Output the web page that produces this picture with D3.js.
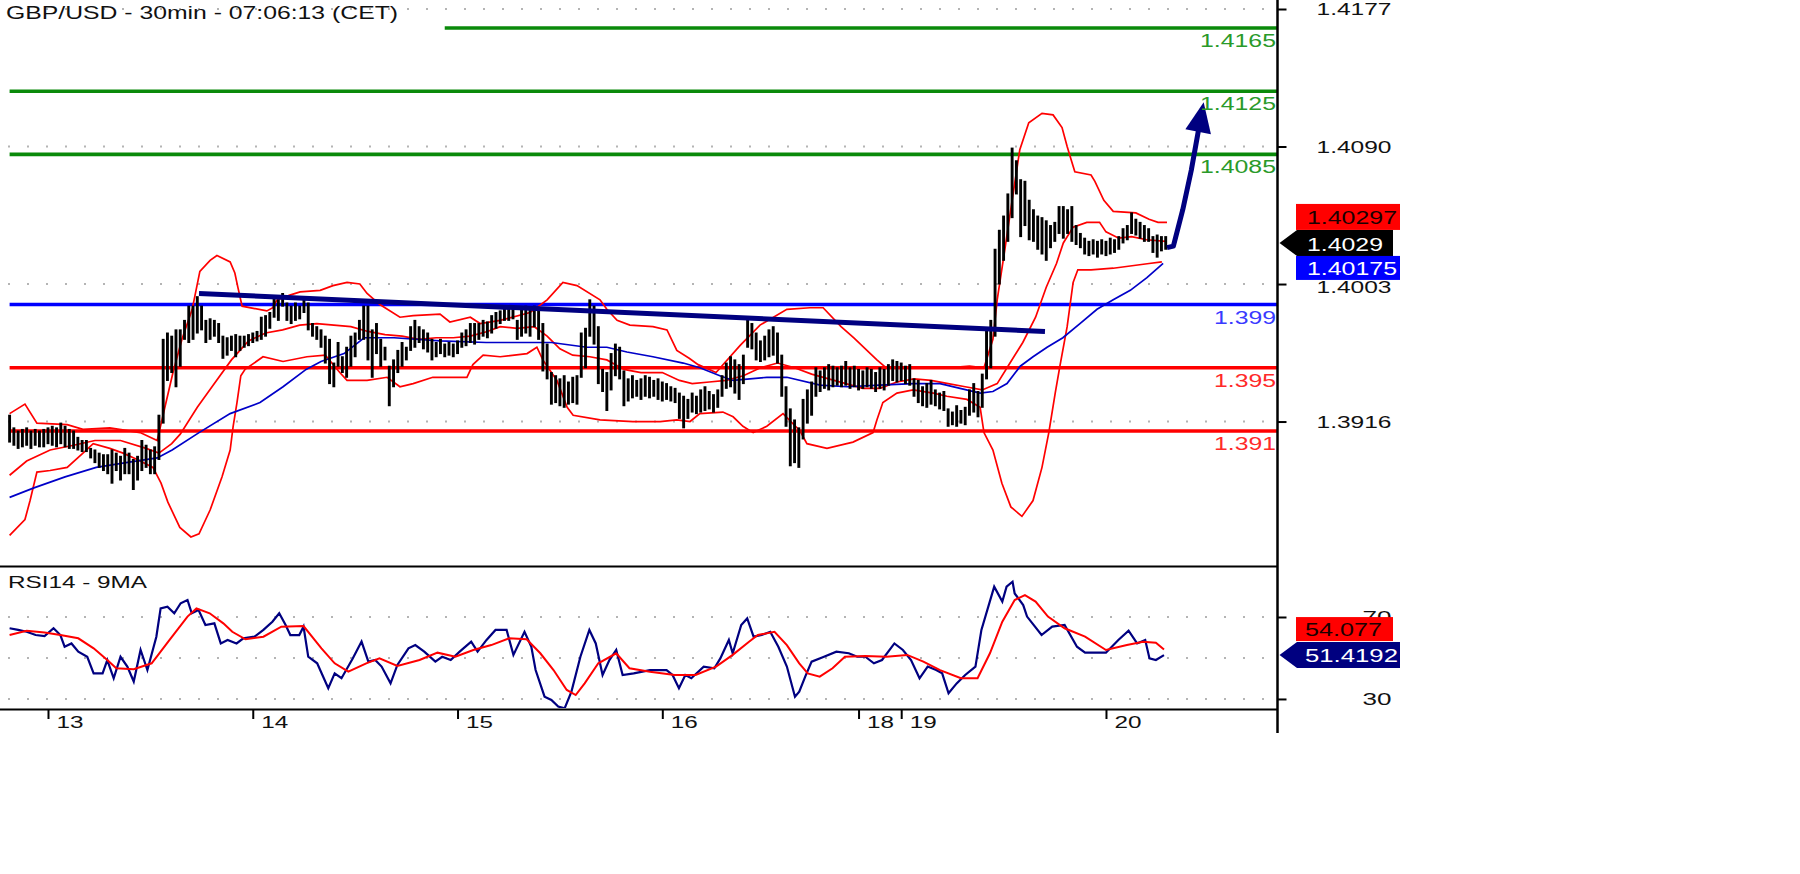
<!DOCTYPE html>
<html><head><meta charset="utf-8">
<script src="https://cdn.jsdelivr.net/npm/d3@7"></script>
<style>html,body{margin:0;padding:0;background:#fff;overflow:hidden}svg{display:block;font-family:"Liberation Sans",Arial,sans-serif}</style>
</head><body><svg id="chart" width="1800" height="874"></svg>
<script>
// ---------- DATA ----------
const title = "GBP/USD - 30min - 07:06:13 (CET)";
const rsiTitle = "RSI14 - 9MA";
const highs = [1.3920,1.3912,1.3910,1.3911,1.3912,1.3910,1.3911,1.3910,1.3911,1.3912,1.3913,1.3912,1.3915,1.3913,1.3911,1.3910,1.3906,1.3904,1.3904,1.3899,
1.3898,1.3896,1.3895,1.3895,1.3898,1.3896,1.3894,1.3899,1.3896,1.3892,1.3894,1.3904,1.3901,1.3898,1.3900,1.3920,1.3968,1.3972,1.3970,1.3974,
1.3974,1.3980,1.3989,1.3989,1.3995,1.3989,1.3980,1.3981,1.3980,1.3978,1.3970,1.3969,1.3970,1.3971,1.3970,1.3970,1.3971,1.3972,1.3973,1.3982,
1.3983,1.3985,1.3995,1.3993,1.3997,1.3991,1.3989,1.3991,1.3989,1.3993,1.3991,1.3978,1.3976,1.3974,1.3970,1.3968,1.3953,1.3966,1.3957,1.3963,
1.3970,1.3972,1.3980,1.3989,1.3989,1.3974,1.3978,1.3968,1.3963,1.3951,1.3955,1.3961,1.3966,1.3963,1.3976,1.3980,1.3976,1.3974,1.3972,1.3968,
1.3966,1.3968,1.3965,1.3966,1.3965,1.3967,1.3972,1.3974,1.3978,1.3978,1.3978,1.3980,1.3979,1.3983,1.3985,1.3986,1.3988,1.3987,1.3989,1.3980,
1.3987,1.3989,1.3988,1.3989,1.3986,1.3978,1.3965,1.3947,1.3945,1.3943,1.3945,1.3941,1.3944,1.3945,1.3972,1.3975,1.3993,1.3989,1.3976,1.3949,
1.3947,1.3959,1.3965,1.3963,1.3948,1.3943,1.3945,1.3942,1.3943,1.3945,1.3944,1.3942,1.3943,1.3941,1.3940,1.3938,1.3937,1.3934,1.3932,1.3930,
1.3934,1.3932,1.3936,1.3938,1.3935,1.3933,1.3936,1.3945,1.3953,1.3957,1.3955,1.3952,1.3958,1.3980,1.3978,1.3972,1.3967,1.3970,1.3974,1.3976,
1.3972,1.3958,1.3938,1.3924,1.3917,1.3912,1.3930,1.3936,1.3941,1.3950,1.3948,1.3950,1.3952,1.3951,1.3950,1.3951,1.3954,1.3950,1.3951,1.3949,
1.3948,1.3950,1.3949,1.3947,1.3950,1.3949,1.3952,1.3955,1.3954,1.3953,1.3951,1.3952,1.3943,1.3942,1.3938,1.3940,1.3942,1.3936,1.3934,1.3935,
1.3924,1.3922,1.3926,1.3923,1.3925,1.3936,1.3940,1.3935,1.3946,1.3975,1.3980,1.4025,1.4037,1.4046,1.4060,1.4089,1.4081,1.4069,1.4068,1.4056,
1.4050,1.4046,1.4045,1.4043,1.4040,1.4042,1.4052,1.4052,1.4050,1.4052,1.4040,1.4035,1.4032,1.4030,1.4031,1.4030,1.4031,1.4030,1.4032,1.4031,
1.4033,1.4038,1.4040,1.4048,1.4044,1.4042,1.4040,1.4038,1.4033,1.4034,1.4033,1.4033];
const lows = [1.3903,1.3901,1.3899,1.3900,1.3901,1.3899,1.3901,1.3900,1.3900,1.3902,1.3901,1.3900,1.3902,1.3900,1.3899,1.3899,1.3898,1.3897,1.3897,1.3893,
1.3890,1.3887,1.3885,1.3883,1.3877,1.3885,1.3879,1.3883,1.3883,1.3873,1.3879,1.3885,1.3887,1.3883,1.3883,1.3892,1.3915,1.3942,1.3947,1.3938,
1.3951,1.3968,1.3966,1.3968,1.3972,1.3974,1.3966,1.3968,1.3970,1.3966,1.3956,1.3958,1.3961,1.3957,1.3961,1.3963,1.3964,1.3966,1.3967,1.3968,
1.3970,1.3975,1.3982,1.3980,1.3989,1.3980,1.3978,1.3980,1.3981,1.3985,1.3974,1.3970,1.3968,1.3963,1.3953,1.3940,1.3938,1.3951,1.3947,1.3944,
1.3951,1.3957,1.3968,1.3968,1.3955,1.3944,1.3959,1.3951,1.3955,1.3926,1.3938,1.3947,1.3951,1.3955,1.3961,1.3963,1.3966,1.3962,1.3960,1.3955,
1.3957,1.3959,1.3957,1.3958,1.3957,1.3959,1.3963,1.3964,1.3966,1.3965,1.3968,1.3970,1.3969,1.3972,1.3975,1.3978,1.3980,1.3980,1.3981,1.3968,
1.3970,1.3972,1.3970,1.3976,1.3968,1.3948,1.3943,1.3927,1.3928,1.3926,1.3925,1.3927,1.3928,1.3927,1.3944,1.3950,1.3970,1.3965,1.3940,1.3935,
1.3923,1.3936,1.3945,1.3943,1.3926,1.3929,1.3931,1.3932,1.3930,1.3932,1.3931,1.3932,1.3930,1.3929,1.3930,1.3929,1.3928,1.3918,1.3912,1.3918,
1.3922,1.3921,1.3922,1.3923,1.3924,1.3922,1.3925,1.3932,1.3937,1.3938,1.3934,1.3930,1.3940,1.3963,1.3962,1.3955,1.3954,1.3955,1.3957,1.3958,
1.3953,1.3932,1.3913,1.3888,1.3890,1.3887,1.3905,1.3915,1.3920,1.3932,1.3935,1.3937,1.3936,1.3938,1.3939,1.3938,1.3939,1.3937,1.3938,1.3936,
1.3937,1.3938,1.3937,1.3935,1.3937,1.3936,1.3939,1.3942,1.3941,1.3942,1.3940,1.3939,1.3932,1.3928,1.3926,1.3925,1.3927,1.3926,1.3924,1.3923,
1.3913,1.3914,1.3913,1.3915,1.3914,1.3920,1.3922,1.3919,1.3925,1.3943,1.3950,1.3970,1.4003,1.4018,1.4030,1.4045,1.4060,1.4033,1.4040,1.4031,
1.4030,1.4025,1.4022,1.4018,1.4026,1.4030,1.4035,1.4032,1.4035,1.4030,1.4028,1.4026,1.4022,1.4021,1.4022,1.4020,1.4022,1.4021,1.4022,1.4023,
1.4025,1.4029,1.4031,1.4035,1.4034,1.4032,1.4030,1.4030,1.4023,1.4020,1.4024,1.4025];
// Bollinger bands [bar index, price]
const bandUpper = [[0,1.3921],[3.6,1.3927],[6.4,1.3915],[13.5,1.3914],[17.2,1.3911],[23.5,1.3912],[30.6,1.3909],[34.6,1.3904],[36.4,1.3925],[38.3,1.3947],[40.4,1.3968],[42.8,1.3987],[44.6,1.4011],[47,1.4018],[48.6,1.4021],[51.7,1.4017],[52.8,1.4010],[53.5,1.4001],[54.5,1.3989],[60.3,1.3986],[61.7,1.3988],[62.7,1.3993],[65.7,1.3996],[68.1,1.3998],[72.8,1.3999],[75.8,1.4002],[79.1,1.4004],[82.1,1.4003],[83.8,1.3997],[86.8,1.3990],[91.5,1.3982],[94.6,1.3983],[100.9,1.3984],[103.2,1.3979],[108,1.3982],[110.3,1.3978],[115,1.3980],[122,1.3985],[126,1.3993],[129.7,1.4004],[133,1.4002],[138.4,1.3993],[140,1.3987],[142.4,1.3980],[145.4,1.3977],[150.8,1.3976],[154.1,1.3974],[156.4,1.3961],[159.3,1.3956],[161.4,1.3952],[165.6,1.3947],[171.2,1.3964],[175.9,1.3977],[182.2,1.3987],[187.6,1.3988],[190.7,1.3988],[194.9,1.3976],[197.9,1.3969],[203.3,1.3955],[205.5,1.3950],[212,1.3950],[220,1.3950],[225,1.3951],[228.4,1.3950],[230.5,1.3968],[231.5,1.3993],[233.3,1.4025],[235,1.4056],[236.8,1.4088],[238.9,1.4105],[242,1.4111],[244.6,1.4110],[246.7,1.4102],[247.9,1.4090],[248.8,1.4082],[249.7,1.4074],[253.5,1.4072],[254.4,1.4068],[256.5,1.4056],[258.7,1.4049],[264,1.4048],[267.1,1.4044],[269.2,1.4042],[271.3,1.4042]];
const bandMiddle = [[0,1.3882],[4,1.3891],[9.5,1.3898],[15,1.3901],[20,1.3904],[26,1.3904],[32,1.3899],[35,1.3896],[38,1.3902],[40,1.3908],[44,1.3925],[48,1.3940],[52,1.3955],[56,1.3967],[60,1.3972],[64,1.3974],[68,1.3977],[72,1.3978],[76,1.3977],[80,1.3976],[84,1.3973],[88,1.3971],[92,1.3970],[96,1.3968],[100,1.3969],[104,1.3969],[108,1.3970],[112,1.3973],[115,1.3976],[119,1.3975],[123,1.3976],[126,1.3970],[129,1.3962],[132,1.3958],[136,1.3957],[140,1.3955],[144,1.3949],[148,1.3947],[153,1.3947],[157,1.3942],[160,1.3940],[164,1.3941],[168,1.3942],[172,1.3945],[176,1.3950],[180,1.3953],[184,1.3950],[188,1.3946],[192,1.3943],[196,1.3940],[200,1.3937],[204,1.3937],[208,1.3941],[212,1.3943],[216,1.3942],[220,1.3940],[224,1.3938],[228,1.3936],[231.5,1.3940],[234.5,1.3953],[237.5,1.3966],[240.5,1.3982],[243,1.4001],[245.4,1.4016],[247,1.4029],[249.3,1.4039],[252.5,1.4042],[255.5,1.4042],[257,1.4036],[260,1.4032],[263,1.4033],[266.5,1.4031],[271,1.4030]];
const bandLower = [[0,1.3844],[3.6,1.3854],[4.8,1.3866],[6.4,1.3884],[9.5,1.3885],[13.5,1.3887],[17.2,1.3896],[19.6,1.3902],[23.5,1.3899],[26.6,1.3896],[29.9,1.3892],[33.6,1.3887],[35.5,1.3877],[37.1,1.3865],[39.9,1.3849],[42.5,1.3843],[44.4,1.3845],[47,1.3860],[49.8,1.3881],[51.7,1.3898],[52.4,1.3913],[53.3,1.3928],[54.2,1.3945],[55.2,1.3949],[59.4,1.3957],[64.1,1.3954],[69.7,1.3957],[74,1.3958],[77.4,1.3947],[79.1,1.3942],[83.8,1.3942],[88.5,1.3944],[91.5,1.3938],[94.6,1.3940],[99.2,1.3944],[107.2,1.3944],[108.6,1.3952],[111,1.3958],[115,1.3957],[121.3,1.3959],[123.6,1.3963],[125,1.3955],[128.3,1.3942],[130.7,1.3925],[132.1,1.3920],[138.4,1.3917],[146.1,1.3916],[152.5,1.3916],[156.4,1.3917],[159.5,1.3916],[161.8,1.3921],[167.2,1.3922],[169.6,1.3919],[171.9,1.3913],[174.3,1.3909],[177.5,1.3913],[181.3,1.3921],[185.3,1.3910],[186.9,1.3902],[191.6,1.3899],[197.7,1.3903],[202.4,1.3909],[203.3,1.3917],[204.7,1.3928],[208,1.3934],[211.8,1.3936],[216.5,1.3934],[219.7,1.3932],[224.4,1.3930],[227.5,1.3925],[228.4,1.3909],[230.5,1.3898],[232.6,1.3877],[234.7,1.3862],[237.3,1.3856],[239.9,1.3866],[242,1.3887],[243.6,1.3909],[245.1,1.3934],[246.2,1.3951],[247.9,1.3976],[249.3,1.4004],[250.4,1.4012],[253.5,1.4012],[258.7,1.4013],[267.1,1.4016],[270.1,1.4017]];
const movingAvg = [[0,1.3868],[5.7,1.3874],[13,1.3881],[20.3,1.3887],[27.3,1.3890],[34.6,1.3893],[38.1,1.3898],[44.4,1.3909],[51.7,1.3921],[58.7,1.3928],[64.1,1.3938],[69.5,1.3949],[73,1.3954],[78.4,1.3959],[83.1,1.3969],[90.1,1.3969],[100.9,1.3967],[111.7,1.3966],[119,1.3966],[127,1.3966],[135.3,1.3963],[140,1.3963],[144.7,1.3960],[150.8,1.3957],[157.9,1.3953],[161.8,1.3950],[166.5,1.3945],[169.6,1.3942],[177.5,1.3944],[182.2,1.3944],[190,1.3939],[196.3,1.3938],[204,1.3939],[211.8,1.3940],[218.1,1.3940],[222.8,1.3937],[227.5,1.3934],[230.5,1.3935],[233.8,1.3940],[236.9,1.3951],[239.9,1.3957],[243.2,1.3963],[246.9,1.3969],[250.9,1.3978],[254.9,1.3987],[258.7,1.3993],[262.7,1.3999],[266.6,1.4007],[270.4,1.4016]];
const trendLine = [[44.4,1.3997],[242.7,1.3973]];
const arrowPath = [[271.3,1.4026],[272.8,1.4027],[275,1.4050],[277,1.4075],[279,1.4105],[279.9,1.4118]];
const levelValues = [1.4165,1.4125,1.4085,1.399,1.395,1.391];
const levelLabels = ["1.4165","1.4125","1.4085","1.399","1.395","1.391"];
const levelStartBar = [102,0,0,0,0,0];
const priceTicks = [1.4177,1.4090,1.4003,1.3916];
const priceTickLabels = ["1.4177","1.4090","1.4003","1.3916"];
const rsiTicks = [70,30];
const rsiGrid = [70,50,30];
const dateTickBars = [9,57,105,153,199,209,257];
const dateLabels = ["13","14","15","16","18","19","20"];
const rsi = [[0,64.5],[2,63.7],[4,62.8],[6.1,61.2],[8.2,60.7],[10.3,64.5],[11.9,61.2],[12.9,55.5],[14.5,57.1],[16.1,53.1],[18.2,50.6],[19.7,42.5],[21.8,42.5],[22.9,49],[24.4,40.1],[26,50.6],[27.6,45.8],[29.1,38.5],[30.7,53.9],[32.3,44.1],[34.4,60.4],[35.4,74.2],[37,75],[38.6,71.8],[40.1,76.7],[41.7,78.3],[42.7,71.8],[44.3,73.4],[45.9,66.1],[48,66.9],[49.5,57.1],[51.1,58.8],[53.2,57.1],[54.8,59.6],[57.4,60.4],[59.5,63.7],[61.6,67.7],[63.2,71.8],[64.7,66.1],[65.8,61.2],[67.9,61.2],[68.9,65.3],[70,50.6],[72.1,47.4],[74.7,35.2],[76.2,42.5],[77.8,40.1],[80.4,49.6],[82.5,58],[84.1,48.2],[85.7,49],[87.2,45.8],[89.3,37.6],[90.9,46.6],[93.5,54.7],[95.1,56.3],[97.2,53.1],[99.8,48.2],[101.4,50.6],[103.4,49],[105.5,53.1],[108.2,58],[109.7,53.1],[111.8,58.8],[113.9,63.7],[116.5,63.7],[118.1,51.5],[120.7,62.8],[122.3,55.5],[123.3,44.1],[125.4,31.1],[127,29.5],[128.6,26.3],[130.1,25.4],[131.7,33.6],[133.8,50.6],[135.9,63.7],[137.4,57.1],[139,41.7],[140.6,49],[142.2,53.9],[143.7,41.7],[146.3,42.5],[150.1,44.1],[154,44.1],[155.4,41.7],[156.9,35.2],[158.4,41.7],[159.8,40.1],[162.7,45.8],[165.2,45],[166.6,49.8],[168.6,58.8],[169.5,52.3],[171.5,66.1],[172.9,69.3],[174.4,60.4],[176.3,61.2],[178.3,62.8],[180.2,55.5],[182.2,45.8],[184.1,31.1],[185.1,33.6],[186.5,40.9],[188,48.2],[190.9,50.6],[193.8,53.1],[196.7,52.3],[198.7,50.6],[200.6,50.6],[202.6,47.4],[204.5,49],[207.4,57.1],[209.4,53.9],[211.3,49],[213.3,40.1],[215.2,45.8],[217.2,44.1],[218.6,42.5],[220.1,32.8],[222,37.6],[224,41.7],[226.4,45.8],[227.8,63.7],[230.8,84.8],[232.7,77.5],[233.7,84.8],[235.1,87.2],[235.6,81.5],[237.6,75.8],[238.5,70.2],[241.9,61.2],[244.4,65.3],[247.3,66.1],[250.2,55.5],[252.1,52.6],[257,52.6],[259.9,58.8],[262.3,63.3],[264.3,57.1],[266.2,58.8],[267.2,49.8],[268.7,49],[270.6,51.4]];
const rsiMA = [[0,61.2],[4,63.3],[8.2,62.4],[11.9,61.2],[16.1,59.6],[19.7,54.7],[22.9,49],[25,45],[29.1,44.5],[33.3,47.4],[37.5,58.8],[41.7,70.2],[43.8,74.2],[46.9,71.8],[50.1,66.9],[52.2,62.8],[55.3,59.1],[59.5,60.4],[63.7,65.3],[68.9,65.6],[73.1,54.7],[76.2,47.4],[79.4,43.3],[83.6,47.4],[86.7,49.8],[90.9,46.1],[96.1,49],[100.3,52.6],[104.5,50.6],[108.7,53.9],[112.9,56.3],[117.1,59.6],[121.2,59.1],[124.4,52.3],[127.5,44.1],[130.6,34.4],[132.7,31.9],[134.8,37.6],[138,47.4],[142.2,52.3],[145.3,45],[150.1,43.3],[155.9,41.7],[160.8,41.7],[165.6,45.8],[169.5,51.5],[173.4,58],[175.4,61.2],[179.3,62.8],[182.2,56.3],[185.1,47.4],[187.1,42.5],[189.9,40.9],[192.9,45],[195.8,50.6],[200.6,51],[205.5,50.6],[210.4,51.5],[214.2,48.2],[218.1,44.1],[223,40.1],[226.9,40.1],[229.8,52.3],[232.7,67.7],[235.6,78.3],[238,80.7],[240.5,77.5],[243.4,70.2],[247.3,64.5],[252.1,60.4],[257,53.9],[261.9,56.3],[265.7,57.9],[268.7,57.4],[270.6,54.1]];
const lastClose = 1.4029, lastMid = 1.40297, lastMA = 1.40175;
const lastRsi = 51.4192, lastRsiMA = 54.077;

// ---------- LAYOUT / STYLE ----------
const AX = 1277.5;
const levelColors = ["#0a8a0a","#0a8a0a","#0a8a0a","#0000ff","#ff0000","#ff0000"];
const levelTextColors = ["#2a9a2a","#2a9a2a","#2a9a2a","#3a3aff","#ff2a2a","#ff2a2a"];
const svg = d3.select("#chart");
const x = d3.scaleLinear().domain([0,271]).range([9.6,1165.7]);
const y = d3.scaleLinear().domain([1.38246,1.41827]).range([566,0]);
const yr = d3.scaleLinear().domain([25.1,94.4]).range([709,567]);

const defs = svg.append("defs");
defs.append("clipPath").attr("id","cMain").append("rect").attr("x",0).attr("y",0).attr("width",AX).attr("height",565);
defs.append("clipPath").attr("id","cRsi").append("rect").attr("x",0).attr("y",568).attr("width",AX).attr("height",140);

function txt(g,s,xx,yy,o){
  const t=g.append("text").attr("x",xx).attr("y",yy).text(s)
    .attr("font-size",o.size||17).attr("fill",o.fill||"#000");
  if(o.anchor) t.attr("text-anchor",o.anchor);
  if(o.w) t.attr("textLength",o.w).attr("lengthAdjust","spacingAndGlyphs");
  return t;
}

// grid dots
const grid = svg.append("g");
priceTicks.forEach(v=>grid.append("line").attr("x1",8).attr("x2",1272).attr("y1",y(v)).attr("y2",y(v))
  .attr("stroke","#b4b4b4").attr("stroke-width",2).attr("stroke-dasharray","2 17"));
rsiGrid.forEach(v=>grid.append("line").attr("x1",8).attr("x2",1272).attr("y1",yr(v)).attr("y2",yr(v))
  .attr("stroke","#b4b4b4").attr("stroke-width",2).attr("stroke-dasharray","2 17"));

const main = svg.append("g").attr("clip-path","url(#cMain)");
// level lines
levelValues.forEach((v,k)=>{
  main.append("line").attr("x1",x(levelStartBar[k])).attr("x2",AX).attr("y1",y(v)).attr("y2",y(v))
    .attr("stroke",levelColors[k]).attr("stroke-width",3.6);
});
// bands & MA
const ln = d3.line().x(d=>x(d[0])).y(d=>y(d[1]));
[bandUpper,bandMiddle,bandLower].forEach(b=>main.append("path").attr("d",ln(b)).attr("fill","none")
  .attr("stroke","#ff0000").attr("stroke-width",1.7));
main.append("path").attr("d",ln(movingAvg)).attr("fill","none").attr("stroke","#0000c8").attr("stroke-width",1.7);
// bars
main.append("g").selectAll("line").data(highs).join("line")
  .attr("x1",(d,i)=>x(i)).attr("x2",(d,i)=>x(i))
  .attr("y1",d=>y(d)-0.5).attr("y2",(d,i)=>y(lows[i])+0.5)
  .attr("stroke","#000").attr("stroke-width",2.9);
// trend line
main.append("path").attr("d",ln(trendLine)).attr("stroke","#000080").attr("stroke-width",5).attr("fill","none");
// arrow
const shaft = arrowPath.slice(0,-1);
main.append("path").attr("d",ln(shaft)).attr("stroke","#000080").attr("stroke-width",5).attr("fill","none")
  .attr("stroke-linejoin","round");
{
  const a=arrowPath[arrowPath.length-2], b=arrowPath[arrowPath.length-1];
  const tx=x(b[0]), ty=y(b[1]);
  const sx=x(a[0]), sy=y(a[1]);
  const dx=tx-sx, dy=ty-sy, L=Math.hypot(dx,dy), ux=dx/L, uy=dy/L;
  const hl=30, hw=13;
  const bx=tx-ux*hl, by=ty-uy*hl;
  const pts=[[tx,ty],[bx-uy*hw,by+ux*hw],[bx+uy*hw,by-ux*hw]];
  main.append("path").attr("d","M"+pts.map(p=>p.join(",")).join("L")+"Z").attr("fill","#000080");
}
// level labels
levelValues.forEach((v,k)=>{
  txt(svg,levelLabels[k],1276,y(v)+19,{size:18,fill:levelTextColors[k],anchor:"end",w:k<3?76:62});
});

// RSI panel
const rp = svg.append("g").attr("clip-path","url(#cRsi)");
const lr = d3.line().x(d=>x(d[0])).y(d=>yr(d[1]));
rp.append("path").attr("d",lr(rsi)).attr("fill","none").attr("stroke","#000080").attr("stroke-width",2.2);
rp.append("path").attr("d",lr(rsiMA)).attr("fill","none").attr("stroke","#ff0000").attr("stroke-width",2);

// titles
txt(svg,title,6,19,{size:18,fill:"#111",w:392});
txt(svg,rsiTitle,8,588,{size:17,fill:"#111",w:139});

// separators
svg.append("line").attr("x1",0).attr("x2",AX).attr("y1",566.5).attr("y2",566.5).attr("stroke","#000").attr("stroke-width",2.2);
svg.append("line").attr("x1",0).attr("x2",AX).attr("y1",709.5).attr("y2",709.5).attr("stroke","#000").attr("stroke-width",2.2);

// right price axis
const pAx = svg.append("g").attr("transform",`translate(${AX},0)`)
  .call(d3.axisRight(y).tickValues(priceTicks).tickSize(9).tickPadding(30).tickFormat((d,k)=>priceTickLabels[k]));
pAx.select(".domain").remove();
pAx.selectAll("line").attr("stroke","#000").attr("stroke-width",2);
pAx.selectAll("text").attr("font-size",17).attr("font-family","Liberation Sans, Arial, sans-serif")
  .attr("fill","#111").attr("textLength",75).attr("lengthAdjust","spacingAndGlyphs")
  .attr("dy",(d,k)=>k===2?"0.48em":"0.35em");
// RSI axis
const rAx = svg.append("g").attr("transform",`translate(${AX},0)`)
  .call(d3.axisRight(yr).tickValues(rsiTicks).tickSize(9).tickPadding(76).tickFormat(d3.format("d")));
rAx.select(".domain").remove();
rAx.selectAll("line").attr("stroke","#000").attr("stroke-width",2);
rAx.selectAll("text").attr("font-size",17).attr("font-family","Liberation Sans, Arial, sans-serif")
  .attr("fill","#111").attr("textLength",29).attr("lengthAdjust","spacingAndGlyphs").attr("dy","0.35em");
// date axis
const dAx = svg.append("g").attr("transform","translate(0,710)")
  .call(d3.axisBottom(x).tickValues(dateTickBars).tickSize(9).tickFormat((d,k)=>dateLabels[k]));
dAx.select(".domain").remove();
dAx.selectAll("line").attr("stroke","#000").attr("stroke-width",2);
dAx.selectAll("text").attr("font-size",17).attr("font-family","Liberation Sans, Arial, sans-serif")
  .attr("fill","#111").attr("text-anchor","start").attr("x",8).attr("y",18).attr("dy",0)
  .attr("textLength",27).attr("lengthAdjust","spacingAndGlyphs");
// vertical axis line
svg.append("line").attr("x1",AX).attr("x2",AX).attr("y1",0).attr("y2",733).attr("stroke","#000").attr("stroke-width",2.5);

// value boxes (main)
{
  const yc=y(lastClose);
  svg.append("rect").attr("x",1296).attr("y",yc-39).attr("width",104).attr("height",26).attr("fill","#ff0000");
  txt(svg,d3.format(".5f")(lastMid),1307,yc-19,{size:18,fill:"#1a0000",w:90});
  svg.append("path").attr("d",`M${AX+2},${yc}L1297,${yc-13}L1393,${yc-13}L1393,${yc+13}L1297,${yc+13}Z`).attr("fill","#000");
  txt(svg,d3.format(".4f")(lastClose),1307,yc+8,{size:18,fill:"#fff",w:76});
  svg.append("rect").attr("x",1296).attr("y",yc+13).attr("width",104).attr("height",24).attr("fill","#0000ff");
  txt(svg,d3.format(".5f")(lastMA),1307,yc+32,{size:18,fill:"#fff",w:90});
}
// value boxes (RSI)
{
  const yc=yr(lastRsi);
  svg.append("rect").attr("x",1296).attr("y",yc-38).attr("width",97).attr("height",24).attr("fill","#ff0000");
  txt(svg,d3.format(".3f")(lastRsiMA),1305,yc-19,{size:18,fill:"#1a0000",w:77});
  svg.append("path").attr("d",`M${AX+2},${yc}L1297,${yc-13}L1400,${yc-13}L1400,${yc+13}L1297,${yc+13}Z`).attr("fill","#000080");
  txt(svg,d3.format(".4f")(lastRsi),1305,yc+7,{size:18,fill:"#fff",w:93});
}
</script></body></html>
